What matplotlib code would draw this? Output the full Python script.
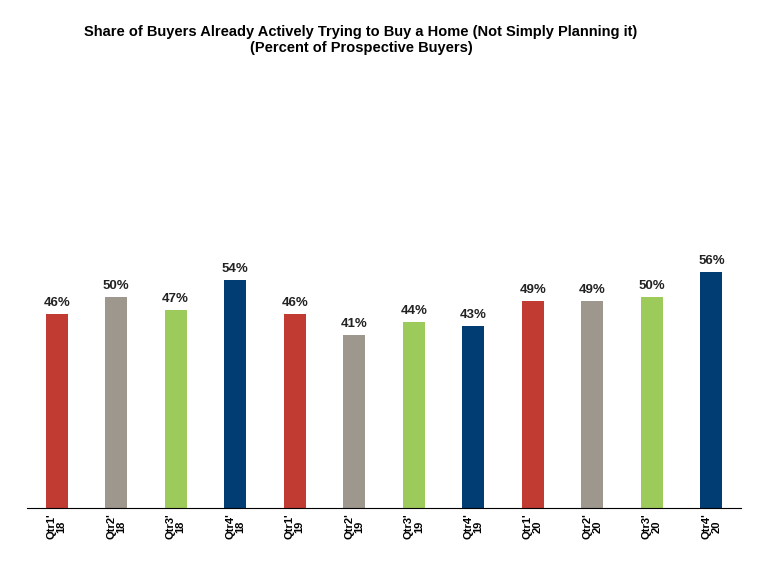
import matplotlib.pyplot as plt

quarters = ["Qtr1'\n18", "Qtr2'\n18", "Qtr3'\n18", "Qtr4'\n18",
            "Qtr1'\n19", "Qtr2'\n19", "Qtr3'\n19", "Qtr4'\n19",
            "Qtr1'\n20", "Qtr2'\n20", "Qtr3'\n20", "Qtr4'\n20"]
values = [46, 50, 47, 54, 46, 41, 44, 43, 49, 49, 50, 56]
colors = ["#C23B33", "#9E978D", "#9CCB5C", "#013C72"] * 3

fig = plt.figure(figsize=(7.68, 5.76), dpi=100)
ax = fig.add_axes([0.035, 0.118, 0.93, 0.733])

x = range(len(values))
bars = ax.bar(x, values, width=0.37, color=colors)
for b, v in zip(bars, values):
    ax.text(b.get_x() + b.get_width() / 2, v + 1.2, f"{v}%", ha="center", va="bottom",
            fontsize=9.5, fontweight="bold", family="Liberation Sans", color="#222222")

ax.set_xlim(-0.5, len(values) - 0.5)
ax.set_ylim(0, 100)
ax.set_yticks([])
ax.set_xticks(list(x))
ax.set_xticklabels(quarters, rotation=90, fontsize=8, fontweight="bold",
                   family="Liberation Sans", va="top", ha="center", linespacing=1.0)
ax.tick_params(axis="x", length=0, pad=4)
for s in ["top", "right", "left"]:
    ax.spines[s].set_visible(False)
ax.spines["bottom"].set_color("black")

fig.text(0.47, 0.93, "Share of Buyers Already Actively Trying to Buy a Home (Not Simply Planning it)\n(Percent of Prospective Buyers)",
         ha="center", va="center", fontsize=10.5, fontweight="bold", family="Liberation Sans")

fig.savefig("out.png", dpi=100)
